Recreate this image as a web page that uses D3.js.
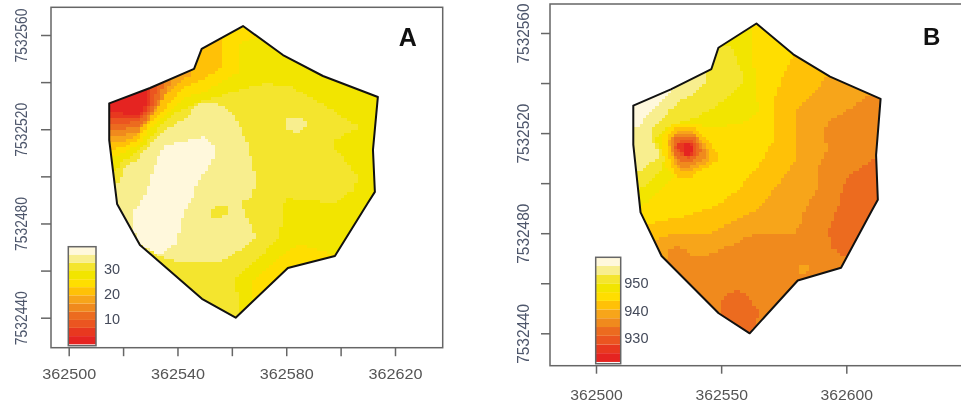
<!DOCTYPE html>
<html lang="en">
<head>
  <meta charset="UTF-8" />
  <title>Kriged surface maps A and B</title>
  <script src="https://d3js.org/d3.v7.min.js"></script>
  <style>
    body { margin:0; padding:0; background:#fff; overflow:hidden; }
    svg { display:block; font-family:"Liberation Sans", Arial, sans-serif; filter:blur(0.45px); }
    .tick line { stroke:#666; stroke-width:1.5px; }
    .frame { fill:none; stroke:#666; stroke-width:1.5px; }
    .outline { fill:none; stroke:#111; stroke-width:2px; stroke-linejoin:round; }
  </style>
</head>
<body>
  <svg width="961" height="406"></svg>

  <script>
  // all map points are [east - 362500, north - 7532440] in metres
  const EAST0 = 362500, NORTH0 = 7532440;

  // legend classes, low to high
  const bandColors = ["#e52421","#e8381f","#eb5520","#ec6b1f","#f08a1d","#f7a51a",
                      "#ffc107","#ffde00","#f2e500","#f4e52e","#f8ee8e","#fff8dc"];

  const breaksA = [-0.3,3,6.3,9.5,12.8,16.1,19.4,22.7,25.9,29.2,32.5,35.8,39];
  const breaksB = [921.4,924.6,927.7,930.9,934.1,937.3,940.5,943.6,946.8,950,953.2,956.3,959.5];
  const legendTicksA = [10,20,30];
  const legendTicksB = [930,940,950];

  const xTicksA = [362500,362520,362540,362560,362580,362600,362620];
  const xLabelsA = [362500,362540,362580,362620];
  const xTicksB = [362500,362550,362600];
  const xLabelsB = [362500,362550,362600];
  const yTicks = [7532440,7532460,7532480,7532500,7532520,7532540,7532560];
  const yLabels = [7532440,7532480,7532520,7532560];

  const fieldBoundary = [[14.9,91],[29.9,97.5],[46.1,105.6],[48.9,114.1],[64.1,123.8],[78.8,111.5],
    [93.5,102.6],[113.7,93.7],[111.9,71.2],[112.6,53.4],[110,48.7],[97.9,26.2],[80.6,21.1],
    [61.4,0],[49,8],[26.2,30.9],[17.8,48.3],[14.9,75.4]];

  // class zones of each map, [class, ring], later zones lie over earlier ones
  const zonesA = [
    [8, [[-20,-20],[140,-20],[140,140],[-20,140]]],
    [9, [[71.6,99.4],[60.5,95.9],[47.1,90.9],[38.5,86.7],[31.7,78.9],[26.8,71.9],[20.7,66.9],[17,62.7],
         [16,55.6],[16.4,48.7],[15.2,34.5],[23.8,27.4],[36,14.7],[48.3,3.4],[62,-0.8],[62.4,8.3],[60.5,16.1],
         [70.3,26],[77.7,34.5],[79,47.2],[80.1,50.6],[88.7,49.9],[97.3,48.2],[104.7,54.2],[106.5,59.8],
         [97.3,72.6],[97.3,75.4],[107.1,81],[92.4,90.9],[81.4,98.7]]],
    [10, [[48.3,90.9],[54.4,90.9],[60.5,86.7],[65.4,75.4],[67.9,62.7],[69.1,58.4],[66.7,49.9],[63,48.7],
          [66.7,40.2],[68.5,34.5],[63,28.9],[55.6,23.2],[48.3,23.9],[40.9,23.2],[33.6,26],[27.5,30.2],
          [22.5,35.9],[17.6,44.4],[16.4,48.7],[16.4,52.8],[17.5,55.6],[20.7,63.4],[25.6,67.6],[30.5,74],
          [35.4,79.6],[42.1,83.9]]],
    [10, [[80.1,85.3],[85,85],[88.1,82.5],[84.4,78.5],[80.1,79.6]]],
    [9, [[52.6,46.5],[59.3,47.2],[59.3,44.4],[54.4,42],[52.6,43]]],
    [11, [[40.9,74.7],[49.5,76.8],[53.8,73.3],[53.2,66.9],[47.1,57],[45.2,49.9],[43.4,47.2],[41.5,41.6],
          [40.9,37.3],[39.7,31.7],[33.6,26.7],[26.2,31],[23.2,40.2],[23.8,44.4],[26.2,48.7],[27.5,49.9],
          [31.1,62.7],[34.8,72.6]]],
    [7, [[67.3,11.2],[67.9,16.1],[74,21.8],[78.9,27.4],[85,31],[92.4,28.9],[98.5,26.7],[99.8,22.5],
         [81.4,18.2],[69.1,6.2]]],
    [7, [[69.1,126.3],[69.1,119.2],[63,116.4],[62.7,104.4],[50.7,96.6],[43.4,93.1],[37.9,88.8],[31.1,81.8],
         [25.6,73.3],[20,69.7],[15.2,66.9],[11.5,66.9],[11.5,92.4],[36,113.6],[60.5,126.3]]],
    [6, [[56.3,120.7],[55.6,105.1],[48.3,100.8],[42.1,98],[39.1,93.1],[33,86],[28.1,80.3],[25.6,76.1],
         [20,72.3],[15.2,71.1],[11.5,71.1],[11.5,92.4],[36,113.6]]],
    [5, [[47.1,109.3],[44.6,103],[39.7,99.4],[36.6,95.9],[31.7,87.4],[26.8,80.3],[25,77.1],[20,74.7],
         [15.2,74.7],[11.5,74.7],[11.5,92.4],[36,113.6]]],
    [4, [[39.7,106.5],[37.2,101.6],[36.6,96.6],[33.6,90.9],[29.3,83.9],[25.6,78.9],[20,77.5],[15.2,77.5],
         [11.5,77.5],[11.5,92.4],[29.9,110.7]]],
    [3, [[34.8,103.7],[34.8,100.1],[33.6,92.4],[31.7,89.5],[28.1,83.2],[25,81],[19.2,79.9],[15.2,79.9],
         [11.5,79.9],[11.5,92.4]]],
    [2, [[32.3,101],[32.3,98.7],[31.7,92.4],[29.3,87.4],[26.2,83.6],[20,82.2],[15.2,82.5],[11.5,82.5],[11.5,92.4]]],
    [1, [[30.5,100],[30.5,97.3],[29.9,90.2],[27.8,86.7],[25,84.6],[19.2,84.2],[15.2,85.3],[11.5,85.3],[11.5,92.4]]],
    [0, [[28.7,99.4],[28.7,96.6],[28.3,89.5],[26.2,86.7],[21.9,86],[18.2,87],[15.2,87.8],[11.5,87.8],[11.5,92.4]]]
  ];

  const zonesB = [
    [4, [[-20,-20],[140,-20],[140,140],[-20,140]]],
    [3, [[111.5,70],[101.5,63.3],[98.8,59.3],[96.8,50.7],[92.8,41.3],[93.5,34.7],[99.5,30.7],[105.5,30.7],
         [116,54.7],[116,70]]],
    [3, [[49.9,13.5],[56.6,17.7],[60.6,14.8],[65.2,8.1],[61.9,-0.5],[58,-1.2],[49.3,6.8]]],
    [5, [[81.2,27.5],[83.9,27.5],[85.9,24.8],[81.9,23.1]]],
    [5, [[112.1,96.7],[102.8,90.7],[92.1,84],[91.5,80],[92.1,73.3],[88.8,66.7],[88.1,57.3],[82.8,48],
         [83.2,45.5],[79.2,40.1],[69.9,40.1],[60.6,38.8],[56.6,36.1],[44.6,31.5],[39.3,30.8],[32.6,34.8],
         [29.3,33.5],[28.6,29.5],[20.6,29.5],[10,29.5],[10,100],[40,115],[60,130],[115,130]]],
    [6, [[95.2,106.7],[92.5,103.3],[87.2,96],[80.6,89.3],[79.9,80],[79.9,69.3],[73.9,61.3],[67.2,52.1],
         [61.9,48.1],[53.9,44.1],[45.9,40.1],[39.3,40.1],[31.3,40.1],[24.6,37.5],[22.6,34.8],[18,34.8],
         [10,34.8],[10,100],[40,115],[60,130],[95.2,130]]],
    [7, [[80,125],[78.6,111.3],[75.2,104],[71.2,93.3],[71.2,77.3],[64.6,66.7],[56.6,57.3],[49.9,52.1],
         [41.9,48.8],[32.6,46.1],[23.3,44.1],[20.6,43.5],[14,43.5],[10,43.5],[10,100],[40,115],[60,130]]],
    [8, [[63,127.3],[63,112.7],[63.3,96.7],[65.2,89.3],[59.1,84],[47.1,82],[40.7,83.3],[38.2,70.7],
         [30.2,61.3],[20.9,52.7],[17.6,51.3],[11.6,51.3],[11.6,97.3],[24.9,98],[44.9,110],[48.9,117.9]]],
    [9, [[48.9,115.3],[54.2,114],[59.5,100.7],[48.9,91.3],[39.6,86],[28.9,82.7],[23.6,77.3],[27.6,70.7],
         [26.2,65.3],[19.6,58.7],[15.6,57.3],[11.6,57.3],[11.6,97.3],[24.9,98],[44.9,110],[48.9,117.9]]],
    [10, [[44.9,108.7],[44.2,104],[43.5,100],[38.2,95.3],[31.6,91.3],[28.9,88.7],[25,84],[22.2,80.7],
          [22.2,78.7],[25.6,70.7],[18.2,65.3],[15.6,63.3],[11.6,63.3],[11.6,97.3],[24.9,98]]],
    [11, [[31.6,98.7],[26.2,92.7],[20.9,87.3],[16.9,82.7],[14.3,80.7],[11.6,80.7],[11.6,97.3]]],
    [7, [[31.6,84],[40.2,83.3],[44.9,78.7],[51.5,72],[51.5,68.7],[43.5,62.7],[38.9,58.7],[33.6,58],
         [31.6,62.7],[28.2,65.3],[26.2,73.3],[26.2,79.3]]],
    [6, [[31.6,82],[39.5,82],[44.2,77.3],[48.2,72],[48.2,68.7],[41.5,64.7],[36.9,62],[32.2,62.7],
         [29.6,68],[28.2,78]]],
    [5, [[32.2,80.7],[38.9,80.7],[42.9,76.7],[45.5,72],[44.9,68.7],[38.9,65.3],[34.2,64.7],[31.6,67.3],
         [30.2,72],[28.9,77.3]]],
    [4, [[31.6,80],[38.9,80],[42.2,76],[44.2,71.3],[42.9,69.3],[37.5,66.7],[33.6,66],[31.6,70.7],
         [29.6,74.7],[30.2,78]]],
    [3, [[32.2,78.7],[38.9,78.7],[41.5,74.7],[42.2,72],[38.9,68.7],[34.2,68.7],[31.6,71.3],[30.6,74.7]]],
    [2, [[33.6,77.3],[38.2,77.3],[40.6,74],[40.2,71.3],[36.9,70],[33.6,71.3],[31.6,74]]],
    [1, [[34.5,76.7],[38,76.3],[39.5,73.3],[38.2,71.3],[35.6,70.9],[33.2,72.7],[32.9,75.3]]],
    [0, [[34.9,75.7],[37.5,75.3],[38.9,73.3],[37.5,71.7],[35.6,71.3],[34.2,73.3]]]
  ];

  const CELL = 1.25; // raster cell of the map, metres
  const svg = d3.select("svg");

  drawPanel({
    id: "A", zones: zonesA, letter: { x: 407.7, y: 46, size: 25 },
    box: { left: 51, right: 442.7, top: 7.3, bottom: 347.7 },
    x: d3.scaleLinear().domain([362500, 362620]).range([68.7, 395]),
    y: d3.scaleLinear().domain([7532440, 7532560]).range([317.7, 35]),
    xTicks: xTicksA, xLabels: xLabelsA, xBase: 31, yBase: 23.7, yTick: 10, xTick: 8.5, xLen: 54, yLen: 54,
    breaks: breaksA, legendTicks: legendTicksA,
    legend: { left: 68.3, right: 96, top: 246.7, bottom: 345.7, labelGap: 8,
              scale: d3.scaleLinear().domain([10, 30]).range([318.7, 269]) }
  });

  drawPanel({
    id: "B", zones: zonesB, letter: { x: 931.7, y: 45, size: 24 },
    box: { left: 550, right: 985, top: 4, bottom: 365.7 },
    x: d3.scaleLinear().domain([362500, 362600]).range([596, 846.3]),
    y: d3.scaleLinear().domain([7532440, 7532560]).range([333.3, 33]),
    xTicks: xTicksB, xLabels: xLabelsB, xBase: 34, yBase: 21.3, yTick: 9, xTick: 8, xLen: 52.5, yLen: 60,
    breaks: breaksB, legendTicks: legendTicksB,
    legend: { left: 595.7, right: 620.7, top: 257.3, bottom: 363.7, labelGap: 3.6,
              scale: d3.scaleLinear().domain([930, 950]).range([338.3, 283.3]) }
  });

  function drawPanel(p) {
    const g = svg.append("g");
    const px = d => p.x(EAST0 + d[0]), py = d => p.y(NORTH0 + d[1]);
    const line = d3.line().x(px).y(py).curve(d3.curveLinearClosed);

    g.append("clipPath").attr("id", "field" + p.id)
      .append("path").attr("d", line(fieldBoundary));

    // stepped raster: a cell takes the class of the last zone holding its centre
    const paths = bandColors.map(() => []);
    for (let e = 10; e < 118; e += CELL) {
      for (let n = -4; n < 128; n += CELL) {
        const c = [e + CELL / 2, n + CELL / 2];
        let band = -1;
        p.zones.forEach(z => { if (d3.polygonContains(z[1], c)) band = z[0]; });
        if (band < 0) continue;
        const x0 = Math.round(px([e, 0])), x1 = Math.round(px([e + CELL, 0]));
        const y0 = Math.round(py([0, n + CELL])), y1 = Math.round(py([0, n]));
        paths[band].push(`M${x0} ${y0}H${x1}V${y1}H${x0}Z`);
      }
    }
    g.append("g").attr("clip-path", `url(#field${p.id})`)
      .attr("shape-rendering", "crispEdges")
      .selectAll("path").data(paths).enter().append("path")
      .attr("fill", (d, i) => bandColors[i])
      .attr("d", d => d.join(""));

    g.append("path").attr("class", "outline").attr("d", line(fieldBoundary));

    // R style box and axes
    g.append("rect").attr("class", "frame")
      .attr("x", p.box.left).attr("y", p.box.top)
      .attr("width", p.box.right - p.box.left).attr("height", p.box.bottom - p.box.top);

    const xAxis = g.append("g").attr("transform", `translate(0,${p.box.bottom})`)
      .call(d3.axisBottom(p.x).tickValues(p.xTicks).tickSize(p.xTick)
        .tickFormat(d => p.xLabels.includes(d) ? d3.format("d")(d) : ""));
    xAxis.select(".domain").remove();
    xAxis.selectAll("text")
      .attr("y", p.xBase).attr("dy", 0)
      .attr("font-size", 15.5).attr("fill", "#555")
      .filter(d => p.xLabels.includes(d))
      .attr("textLength", p.xLen).attr("lengthAdjust", "spacingAndGlyphs");

    const yAxis = g.append("g").attr("transform", `translate(${p.box.left},0)`)
      .call(d3.axisLeft(p.y).tickValues(yTicks).tickSize(p.yTick)
        .tickFormat(d => yLabels.includes(d) ? d3.format("d")(d) : ""));
    yAxis.select(".domain").remove();
    yAxis.selectAll("text")
      .attr("transform", "rotate(-90)")
      .attr("x", 0).attr("y", -p.yBase).attr("dy", 0)
      .attr("text-anchor", "middle")
      .attr("font-size", 16.5).attr("fill", "#4d566b")
      .filter(d => yLabels.includes(d))
      .attr("textLength", p.yLen).attr("lengthAdjust", "spacingAndGlyphs");

    // colour legend
    const lg = p.legend;
    g.append("g").selectAll("rect").data(bandColors).enter().append("rect")
      .attr("x", lg.left).attr("width", lg.right - lg.left)
      .attr("y", (d, i) => lg.scale(p.breaks[i + 1]))
      .attr("height", (d, i) => lg.scale(p.breaks[i]) - lg.scale(p.breaks[i + 1]))
      .attr("fill", d => d);
    g.append("rect").attr("class", "frame")
      .attr("x", lg.left).attr("y", lg.top)
      .attr("width", lg.right - lg.left).attr("height", lg.bottom - lg.top);

    const lAxis = g.append("g").attr("transform", `translate(${lg.right},0)`)
      .call(d3.axisRight(lg.scale).tickValues(p.legendTicks).tickSize(0).tickPadding(lg.labelGap));
    lAxis.select(".domain").remove();
    lAxis.selectAll("text").attr("font-size", 14.5).attr("fill", "#444a5a");

    g.append("text").text(p.id)
      .attr("x", p.letter.x).attr("y", p.letter.y)
      .attr("text-anchor", "middle").attr("font-weight", "bold")
      .attr("font-size", p.letter.size).attr("fill", "#111");
  }
  </script>
</body>
</html>
